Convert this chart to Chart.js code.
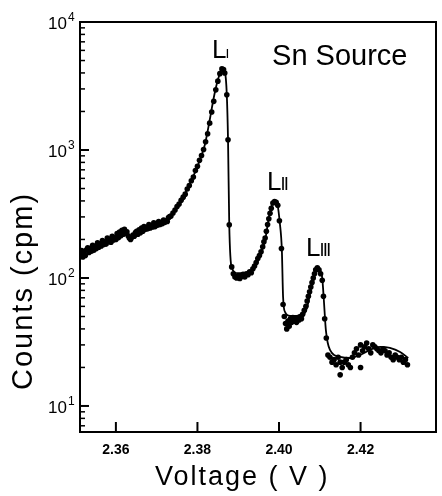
<!DOCTYPE html>
<html><head><meta charset="utf-8">
<script src="https://cdn.jsdelivr.net/npm/chart.js@4/dist/chart.umd.min.js"></script>
<style>html,body{margin:0;padding:0;background:#fff}</style>
</head><body>
<canvas id="c" width="442" height="496"></canvas>
<script>
// ---- data ----
const fitVoltage = [2.3512,2.3539,2.3563,2.3588,2.3610,2.3625,2.3637,2.3654,2.3679,2.3701,2.3725,2.3740,2.3757,2.3774,2.3789,2.3806,2.3818,2.3831,2.3838,2.3845,2.3853,2.3860,2.3867,2.3872,2.3875,2.3878,2.3884,2.3899,2.3917,2.3934,2.3946,2.3958,2.3966,2.3973,2.3980,2.3988,2.3995,2.4002,2.4007,2.4010,2.4015,2.4027,2.4044,2.4059,2.4069,2.4076,2.4083,2.4093,2.4101,2.4106,2.4110,2.4115,2.4125,2.4150,2.4174,2.4199,2.4223,2.4248,2.4272,2.4297,2.4317];
const fitCounts  = [158,176,188,198,215,222,212,224,246,255,274,322,385,487,615,835,1094,1778,2371,3050,3788,4217,4067,2690,1198,260,120,109,109,115,131,165,198,269,352,392,384,269,165,71,54,50.5,50.5,51.4,59,76,93,120,115,100,67,39,27.4,24.2,23.7,25.0,27.4,28.9,28.4,26.4,23.7];

const dotVoltage = [
 2.3513,2.3516,2.3519,2.3522,2.3525,2.3528,2.3531,2.3534,2.3537,2.3540,2.3543,2.3546,2.3549,2.3552,2.3555,2.3558,2.3561,2.3564,2.3567,2.3570,2.3573,2.3576,2.3579,2.3582,2.3585,2.3588,2.3591,2.3594,2.3597,2.3600,2.3603,2.3606,2.3609,2.3612,2.3615,2.3618,2.3621,2.3624,2.3627,2.3630,2.3633,2.3636,2.3639,2.3642,2.3645,2.3648,2.3651,2.3654,2.3657,2.3660,2.3663,2.3666,2.3669,2.3672,2.3675,2.3678,2.3681,2.3684,2.3687,2.3690,2.3693,2.3696,2.3699,2.3702,2.3705,2.3708,2.3711,2.3714,2.3717,2.3720,2.3723,2.3726,2.3729,2.3732,
 2.3735,2.3740,2.3745,2.3750,2.3755,2.3760,2.3765,2.3770,2.3775,2.3780,2.3785,2.3790,2.3795,2.3800,2.3805,2.3810,2.3815,2.3820,2.3825,2.3830,2.3835,2.3840,2.3845,2.3850,2.3855,2.3860,2.3864,2.3867,2.3872,2.3875,2.3878,2.3884,
 2.3888,2.3892,2.3896,2.3900,2.3904,2.3908,2.3912,2.3916,2.3920,2.3924,2.3928,2.3932,2.3936,2.3940,2.3944,2.3948,2.3952,2.3956,2.3960,2.3963,2.3966,2.3969,2.3972,2.3975,2.3978,2.3981,2.3985,2.3989,2.3993,2.3997,2.4001,2.4006,2.4010,
 2.4013,2.4016,2.4019,2.4022,2.4025,2.4028,2.4031,2.4034,2.4037,2.4040,2.4043,2.4046,2.4049,2.4052,2.4055,2.4058,2.4062,2.4066,2.4069,2.4072,2.4075,2.4078,2.4081,2.4084,2.4087,2.4090,2.4094,2.4098,2.4102,2.4106,2.4109,2.4112,2.4116,
 2.4120,2.4125,2.4130,2.4135,2.4140,2.4145,2.4150,2.4150,2.4155,2.4160,2.4165,2.4170,2.4175,2.4180,2.4185,2.4190,2.4195,2.4200,2.4200,2.4205,2.4210,2.4215,2.4220,2.4225,2.4230,2.4235,2.4240,2.4245,2.4250,2.4255,2.4260,2.4265,2.4270,2.4275,2.4280,2.4285,2.4290,2.4295,2.4300,2.4305,2.4310,2.4315];
const dotCounts = [
 152,164,146,160,150,166,172,158,170,162,180,165,176,170,188,174,182,178,196,183,190,184,205,192,200,190,212,198,206,200,222,206,228,214,236,220,240,224,230,214,205,200,208,216,212,226,232,220,238,226,246,232,252,240,248,242,262,246,256,250,270,252,264,258,276,262,270,266,284,272,280,276,296,302,
 305,322,340,362,378,405,428,452,495,528,575,615,690,745,830,905,1010,1160,1340,1620,1980,2400,2950,3450,3950,4300,4250,4000,2700,1200,260,122,
 108,102,100,104,99,103,107,102,108,106,112,110,118,124,132,142,150,160,175,192,205,232,262,290,320,350,385,395,390,370,280,170,62,
 50,44,40,46,42,48,45,49,46,48,45,49,47,50,48,52,56,60,66,72,78,85,92,100,108,116,120,116,108,96,72,48,34,
 25,24,22,23,21,24,22,17.5,20,22,23,21,20,24,26,28,25,30,20,27,29,31,28,26,30,29,28,27,26,28,27,25,26,24,23,25,24,23,24,22,23,21];

const xTickValues = [2.36, 2.38, 2.40, 2.42];
const yTickExponents = [1, 2, 3, 4];
const peakNames = ['L', 'L', 'L'];
const peakNumerals = ['\u2160', '\u2161', '\u2162'];
const peakLabelVoltage = [2.38356, 2.39706, 2.40663];
const peakLabelCounts = [5233, 487, 148.6];
const sourceText = 'Sn Source';
const sourceVoltage = 2.3983;
const sourceCounts = 4615;
const xTitle = 'Voltage ( V )';
const yTitle = 'Counts (cpm)';

const inkPlugin = {
  id: 'ink',
  afterDraw(chart) {
    const {ctx, chartArea: a, scales: {x, y}} = chart;
    ctx.save();
    ctx.strokeStyle = '#000';
    ctx.fillStyle = '#000';
    ctx.lineCap = 'butt';
    ctx.lineWidth = 2;
    ctx.beginPath();
    ctx.moveTo(a.left - 1, a.top);
    ctx.lineTo(a.right, a.top);
    ctx.lineTo(a.right, a.bottom + 1);
    ctx.stroke();
    for (let e = 0; e <= 4; e++) {
      for (let m = 1; m <= 9; m++) {
        const v = m * Math.pow(10, e);
        if (v < y.min || v > y.max) continue;
        const py = y.getPixelForValue(v);
        ctx.lineWidth = m === 1 ? 2 : 1.5;
        ctx.beginPath();
        ctx.moveTo(a.left, py);
        ctx.lineTo(a.left + (m === 1 ? 9 : 5), py);
        ctx.stroke();
      }
    }
    ctx.lineWidth = 2;
    xTickValues.forEach(v => {
      const px = x.getPixelForValue(v);
      ctx.beginPath();
      ctx.moveTo(px, a.bottom);
      ctx.lineTo(px, a.bottom - 10);
      ctx.stroke();
    });
    yTickExponents.forEach(e => {
      const py = y.getPixelForValue(Math.pow(10, e));
      ctx.font = '17px "Liberation Sans"';
      ctx.textAlign = 'right';
      ctx.textBaseline = 'alphabetic';
      ctx.fillText('10', a.left - 13, py + 7);
      ctx.font = '12px "Liberation Sans"';
      ctx.textAlign = 'left';
      ctx.fillText(String(e), a.left - 12, py - 1);
    });
    if ('letterSpacing' in ctx) ctx.letterSpacing = '2px';
    ctx.font = '27px "Liberation Sans"';
    ctx.textAlign = 'left';
    ctx.textBaseline = 'alphabetic';
    ctx.fillText(xTitle, 155, 485);
    ctx.save();
    ctx.translate(32, 390);
    ctx.rotate(-Math.PI / 2);
    ctx.font = '29px "Liberation Sans"';
    ctx.fillText(yTitle, 0, 0);
    ctx.restore();
    if ('letterSpacing' in ctx) ctx.letterSpacing = '0px';
    ctx.font = '29px "Liberation Sans"';
    ctx.fillText(sourceText, x.getPixelForValue(sourceVoltage), y.getPixelForValue(sourceCounts));
    peakNames.forEach((n, i) => {
      const px = x.getPixelForValue(peakLabelVoltage[i]);
      const py = y.getPixelForValue(peakLabelCounts[i]);
      ctx.font = '26px "Liberation Sans"';
      ctx.fillText(n, px, py);
      const w = ctx.measureText(n).width;
      ctx.font = (i === 0 ? '13px' : '17px') + ' "DejaVu Sans"';
      ctx.fillText(peakNumerals[i], px + w - 1, py);
    });
    ctx.restore();
  }
};

new Chart(document.getElementById('c'), {
  type: 'scatter',
  data: {
    datasets: [
      {
        label: 'fit',
        data: fitVoltage.map((v, i) => ({x: v, y: fitCounts[i]})),
        showLine: true,
        borderColor: '#000',
        borderWidth: 1.8,
        pointRadius: 0,
        cubicInterpolationMode: 'monotone',
        fill: false
      },
      {
        label: 'measured',
        data: dotVoltage.map((v, i) => ({x: v, y: dotCounts[i]})),
        showLine: false,
        pointRadius: 2.8,
        pointBorderWidth: 0,
        backgroundColor: '#000',
        borderColor: '#000'
      }
    ]
  },
  options: {
    responsive: false,
    devicePixelRatio: 1,
    animation: false,
    layout: {padding: {top: 22, right: 6, left: 0, bottom: 0}},
    plugins: {legend: {display: false}, tooltip: {enabled: false}},
    scales: {
      x: {
        type: 'linear',
        min: 2.3512,
        max: 2.4385,
        afterFit(s) { s.height = 64; },
        afterBuildTicks(s) { s.ticks = xTickValues.map(v => ({value: v})); },
        grid: {display: false, drawTicks: false, tickLength: 0},
        border: {display: true, color: '#000', width: 2},
        ticks: {
          autoSkip: false,
          maxRotation: 0,
          padding: 10,
          color: '#000',
          font: {family: '"Liberation Sans"', size: 14, weight: 'bold'},
          callback: v => Number(v).toFixed(2)
        }
      },
      y: {
        type: 'logarithmic',
        min: 6.26,
        max: 10000,
        afterFit(s) { s.width = 80; },
        grid: {display: false, drawTicks: false, tickLength: 0},
        border: {display: true, color: '#000', width: 2},
        ticks: {display: false}
      }
    }
  },
  plugins: [inkPlugin]
});
</script>
</body></html>
